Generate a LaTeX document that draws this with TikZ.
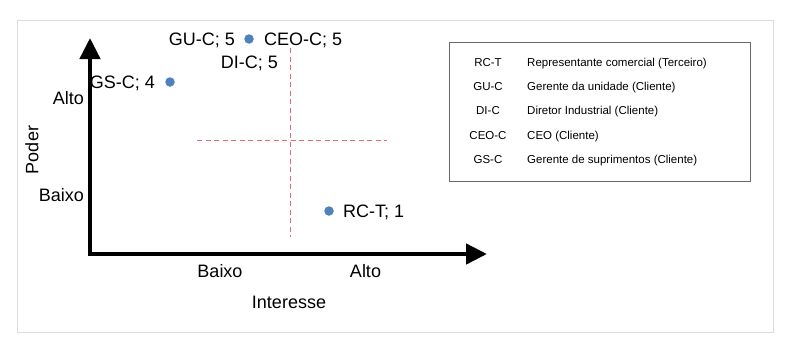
\documentclass[tikz,border=0pt]{standalone}
\usepackage{fontspec}
\setmainfont{Liberation Sans}
\usetikzlibrary{arrows.meta}
\definecolor{ptblue}{HTML}{4F81BD}
\definecolor{dashred}{HTML}{E06B78}
\definecolor{framegray}{HTML}{DDDDDD}
\definecolor{legendgray}{HTML}{666666}
\tikzset{
  biglabel/.style={inner sep=0pt,font=\fontsize{18}{21}\selectfont},
  leglabel/.style={inner sep=0pt,font=\fontsize{11.5}{14}\selectfont},
  ptdot/.style={circle,fill=ptblue,inner sep=0pt,minimum size=9.5pt},
  quadline/.style={dashred,line width=1pt,dash pattern=on 5pt off 3.5pt},
  axisline/.style={line width=4.5pt,{Triangle[width=20pt,length=21pt]}-{Triangle[width=20pt,length=21pt]}}
}
\begin{document}
\begin{tikzpicture}[x=1pt,y=-1pt]
\useasboundingbox (0,0) rectangle (787,340);
% outer frame
\draw[framegray,line width=1pt] (17,20) rectangle (773,332);
% legend box
\draw[legendgray,line width=1pt] (449,42) rectangle (750,181);
% axes
\coordinate (ytip) at (90,38);
\coordinate (origin) at (90,254);
\coordinate (xtip) at (487,254);
\draw[axisline] (ytip) -- (origin) -- (xtip);
% quadrant dashes
\coordinate (hl) at (197,140);
\coordinate (hr) at (387,140);
\coordinate (vt) at (290,48);
\coordinate (vb) at (290,237);
\draw[quadline] (hl) -- (hr);
\draw[quadline] (vt) -- (vb);
% points
\node[ptdot] (p5) at (249,39) {};
\node[ptdot] (p4) at (170,82) {};
\node[ptdot] (p1) at (329,211) {};
% point labels
\node[biglabel,anchor=base east] (lgu) at (235,45.5) {GU-C; 5};
\node[biglabel,anchor=base west] (lceo) at (264,45.5) {CEO-C; 5};
\node[biglabel,anchor=base] (ldi) at (249.5,68.5) {DI-C; 5};
\node[biglabel,anchor=base east] (lgs) at (155,88.5) {GS-C; 4};
\node[biglabel,anchor=base west] (lrc) at (343,217.5) {RC-T; 1};
% axis labels
\node[biglabel,anchor=base east] (yalto) at (84,104.5) {Alto};
\node[biglabel,anchor=base east] (ybaixo) at (84,201.5) {Baixo};
\node[biglabel,rotate=90] (poder) at (32,150) {Poder};
\node[biglabel,anchor=base] (xbaixo) at (220,277.5) {Baixo};
\node[biglabel,anchor=base] (xalto) at (365.5,277.5) {Alto};
\node[biglabel,anchor=base] (interesse) at (289,308.5) {Interesse};
% legend
\node[leglabel,anchor=base] (a1) at (488,66) {RC-T};
\node[leglabel,anchor=base] (a2) at (488,90) {GU-C};
\node[leglabel,anchor=base] (a3) at (488,114) {DI-C};
\node[leglabel,anchor=base] (a4) at (488,139) {CEO-C};
\node[leglabel,anchor=base] (a5) at (488,163) {GS-C};
\node[leglabel,anchor=base west] (d1) at (527,66) {Representante comercial (Terceiro)};
\node[leglabel,anchor=base west] (d2) at (527,90) {Gerente da unidade (Cliente)};
\node[leglabel,anchor=base west] (d3) at (527,114) {Diretor Industrial (Cliente)};
\node[leglabel,anchor=base west] (d4) at (527,139) {CEO (Cliente)};
\node[leglabel,anchor=base west] (d5) at (527,163) {Gerente de suprimentos (Cliente)};
\end{tikzpicture}
\end{document}
